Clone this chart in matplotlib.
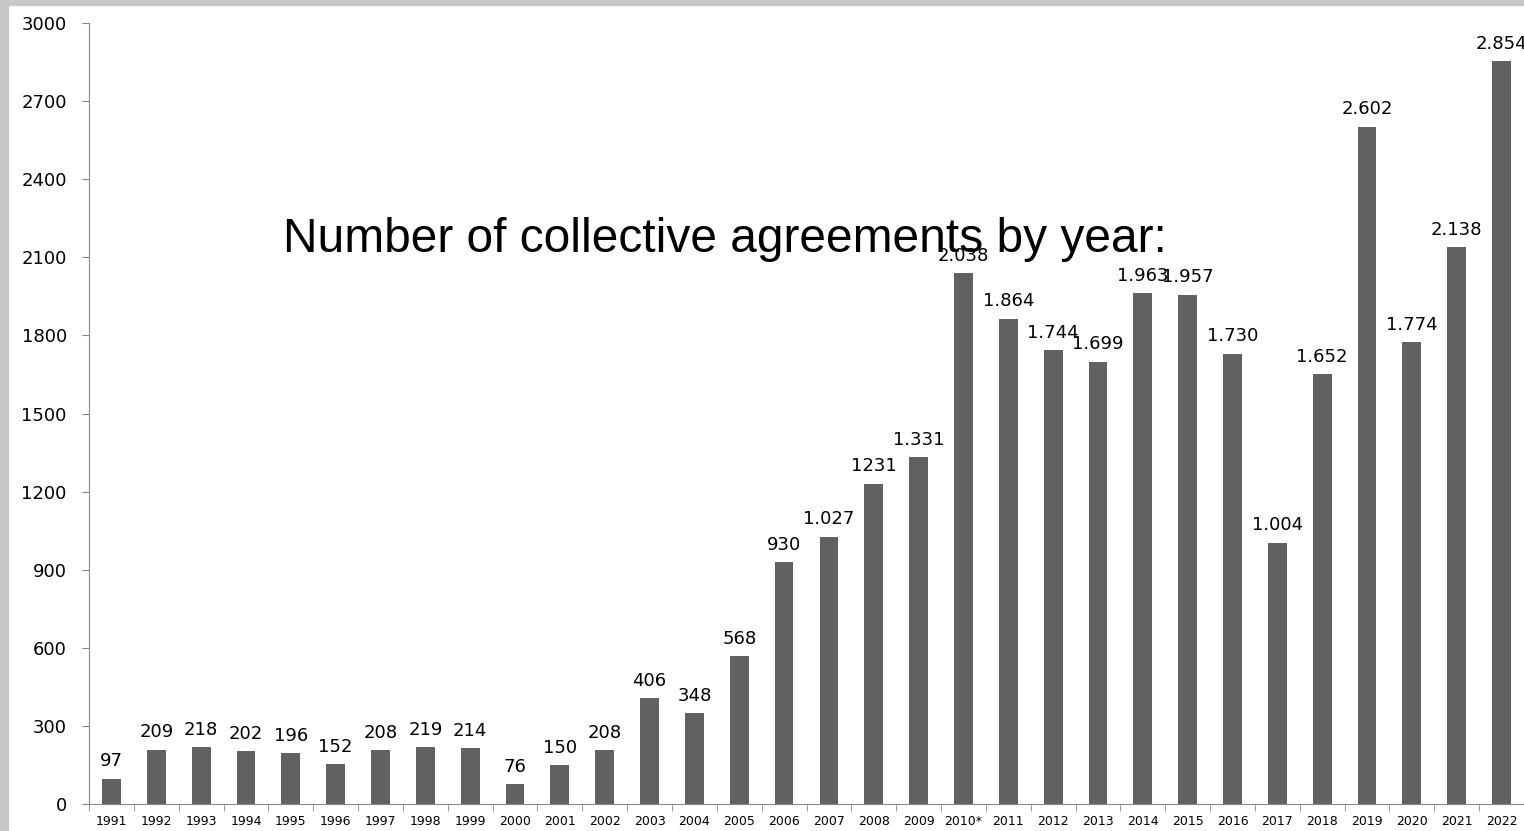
import matplotlib.pyplot as plt
import numpy as np
from matplotlib.patches import Rectangle

years = ['1991', '1992', '1993', '1994', '1995', '1996', '1997', '1998', '1999', '2000',
         '2001', '2002', '2003', '2004', '2005', '2006', '2007', '2008', '2009', '2010*',
         '2011', '2012', '2013', '2014', '2015', '2016', '2017', '2018', '2019', '2020',
         '2021', '2022']
counts = [97, 209, 218, 202, 196, 152, 208, 219, 214, 76,
          150, 208, 406, 348, 568, 930, 1027, 1231, 1331, 2038,
          1864, 1744, 1699, 1963, 1957, 1730, 1004, 1652, 2602, 1774,
          2138, 2854]
labels = ['97', '209', '218', '202', '196', '152', '208', '219', '214', '76',
          '150', '208', '406', '348', '568', '930', '1.027', '1231', '1.331', '2.038',
          '1.864', '1.744', '1.699', '1.963', '1.957', '1.730', '1.004', '1.652', '2.602', '1.774',
          '2.138', '2.854']
yticks = [0, 300, 600, 900, 1200, 1500, 1800, 2100, 2400, 2700, 3000]

fig = plt.figure(figsize=(15.24, 8.31), dpi=100)
# window frame on the left and top
fig.patches.append(Rectangle((0, 0), 8 / 1524, 1, transform=fig.transFigure,
                             color='#c8c8c8', zorder=0))
fig.patches.append(Rectangle((0, 1 - 5 / 831), 1, 5 / 831, transform=fig.transFigure,
                             color='#c8c8c8', zorder=0))

ax = fig.add_axes([89 / 1524, 27 / 831, 1435 / 1524, 781 / 831])
x = np.arange(len(years))
ax.bar(x, counts, width=0.42, color='#616161')

for xi, v, lab in zip(x, counts, labels):
    ax.annotate(lab, (xi, v), xytext=(0, 6), textcoords='offset points',
                ha='center', va='bottom', fontsize=13, color='black',
                annotation_clip=False)

ax.set_xlim(-0.5, len(years) - 0.5)
ax.set_ylim(0, 3000)
ax.set_yticks(yticks)
ax.set_yticklabels([str(t) for t in yticks], fontsize=13)
ax.set_xticks(x)
ax.set_xticklabels(years, fontsize=9)
ax.set_xticks(np.arange(len(years) + 1) - 0.5, minor=True)
ax.tick_params(axis='x', which='major', length=0, pad=8)
ax.tick_params(axis='x', which='minor', length=5, color='#888888')
ax.tick_params(axis='y', length=5, color='#888888', pad=11)

for s in ['top', 'right']:
    ax.spines[s].set_visible(False)
for s in ['left', 'bottom']:
    ax.spines[s].set_color('#888888')

fig.text(725 / 1524, 1 - 240 / 831, 'Number of collective agreements by year:',
         fontsize=34.5, family='Liberation Sans', ha='center', va='center')

fig.savefig('out.png', dpi=100)
